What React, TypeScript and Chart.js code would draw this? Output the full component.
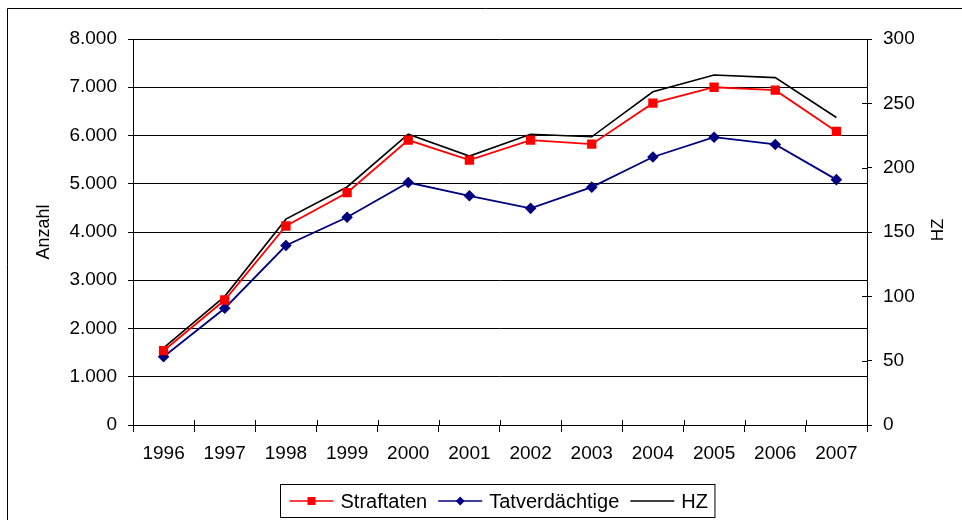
import React, { useEffect, useRef } from 'react';
import { Chart, registerables } from 'chart.js';

Chart.register(...registerables);

const years = ['1996', '1997', '1998', '1999', '2000', '2001', '2002', '2003', '2004', '2005', '2006', '2007'];
const straftaten = [1540, 2590, 4125, 4815, 5905, 5490, 5905, 5820, 6670, 7000, 6940, 6085];
const tatverdaechtige = [1415, 2420, 3720, 4305, 5025, 4750, 4490, 4930, 5555, 5965, 5815, 5085];
const hz = [60, 100, 160, 185, 226, 209, 226, 224, 259, 272, 270, 239];

const seriesNames = ['Straftaten', 'Tatverdächtige', 'HZ'];
const seriesColors = ['#ff0000', '#000080', '#000000'];
const leftTitle = 'Anzahl';
const rightTitle = 'HZ';
const leftMax = 8000;
const leftStep = 1000;
const rightMax = 300;
const rightStep = 50;

const FONT = '"Liberation Sans", Arial, sans-serif';

const fmt = (v: number | string) =>
  String(v).replace(/\B(?=(\d{3})+(?!\d))/g, '.');

const decorPlugin = {
  id: 'decor',
  beforeDraw(chart: any) {
    const ctx = chart.ctx;
    ctx.save();
    ctx.strokeStyle = '#000';
    ctx.lineWidth = 1;
    ctx.beginPath();
    ctx.moveTo(7.5, chart.height + 2);
    ctx.lineTo(7.5, 8.5);
    ctx.lineTo(chart.width + 2, 8.5);
    ctx.stroke();
    ctx.restore();
  },
  afterDraw(chart: any) {
    const ctx = chart.ctx;
    const area = chart.chartArea;
    const xs = chart.scales.x;
    const y1 = chart.scales.y1;
    ctx.save();
    ctx.strokeStyle = '#000';
    ctx.lineWidth = 1;
    ctx.beginPath();
    // inner ticks on right axis
    y1.ticks.forEach((t: any) => {
      const y = Math.round(y1.getPixelForValue(t.value)) + 0.5;
      ctx.moveTo(area.right - 5, y);
      ctx.lineTo(area.right, y);
    });
    // inner ticks on x axis at category boundaries
    const n = years.length;
    const w = (xs.right - xs.left) / n;
    for (let i = 0; i <= n; i++) {
      const x = Math.round(xs.left + i * w) + 0.5;
      ctx.moveTo(x, area.bottom - 5);
      ctx.lineTo(x, area.bottom);
    }
    ctx.stroke();

    // right axis title, rotated reading upward
    ctx.fillStyle = '#000';
    ctx.font = `17px ${FONT}`;
    ctx.textAlign = 'center';
    ctx.textBaseline = 'middle';
    ctx.translate(y1.right - 24, (area.top + area.bottom) / 2 - 2);
    ctx.rotate(-Math.PI / 2);
    ctx.fillText(rightTitle, 0, 0);
    ctx.setTransform(1, 0, 0, 1, 0, 0);

    // legend
    ctx.font = `20px ${FONT}`;
    const widths = seriesNames.map((s) => ctx.measureText(s).width);
    const padL = 9, lineLen = 44, gapT = 7, gapItem = 11, padR = 7;
    const total = padL + seriesNames.length * (lineLen + gapT) + widths.reduce((a, b) => a + b, 0) + (seriesNames.length - 1) * gapItem + padR;
    const cx = (area.left + area.right) / 2 - 2.5;
    const left = Math.round(cx - total / 2) + 0.5;
    const top = 484.5;
    const h = 33;
    ctx.strokeStyle = '#000';
    ctx.lineWidth = 1;
    ctx.strokeRect(left, top, total, h);
    const cy = top + h / 2;
    let x = left + padL;
    seriesNames.forEach((name, i) => {
      ctx.strokeStyle = seriesColors[i];
      ctx.fillStyle = seriesColors[i];
      ctx.lineWidth = 1.6;
      ctx.beginPath();
      ctx.moveTo(x, cy);
      ctx.lineTo(x + lineLen, cy);
      ctx.stroke();
      const mx = x + lineLen / 2;
      if (i === 0) {
        ctx.fillRect(mx - 4, cy - 4, 8, 8);
      } else if (i === 1) {
        ctx.beginPath();
        ctx.moveTo(mx, cy - 4.5);
        ctx.lineTo(mx + 4.5, cy);
        ctx.lineTo(mx, cy + 4.5);
        ctx.lineTo(mx - 4.5, cy);
        ctx.closePath();
        ctx.fill();
      }
      x += lineLen + gapT;
      ctx.fillStyle = '#000';
      ctx.textAlign = 'left';
      ctx.textBaseline = 'middle';
      ctx.fillText(name, x, cy + 1);
      x += widths[i] + gapItem;
    });
    ctx.restore();
  },
};

export default function App() {
  const ref = useRef<HTMLCanvasElement>(null);
  useEffect(() => {
    if (!ref.current) return;
    const tickFont = { family: FONT, size: 19 };
    const chart = new Chart(ref.current, {
      type: 'line',
      data: {
        labels: years,
        datasets: [
          {
            label: seriesNames[0],
            data: straftaten,
            yAxisID: 'y',
            borderColor: seriesColors[0],
            backgroundColor: seriesColors[0],
            borderWidth: 1.8,
            pointStyle: 'rect',
            pointRadius: 6.6,
            pointBorderWidth: 0,
            tension: 0,
          },
          {
            label: seriesNames[1],
            data: tatverdaechtige,
            yAxisID: 'y',
            borderColor: seriesColors[1],
            backgroundColor: seriesColors[1],
            borderWidth: 1.8,
            pointStyle: 'rectRot',
            pointRadius: 5.8,
            pointBorderWidth: 0,
            tension: 0,
          },
          {
            label: seriesNames[2],
            data: hz,
            yAxisID: 'y1',
            borderColor: seriesColors[2],
            backgroundColor: seriesColors[2],
            borderWidth: 1.6,
            pointRadius: 0,
            tension: 0,
          },
        ],
      },
      options: {
        responsive: false,
        animation: false,
        layout: { padding: { top: 39, left: 0, right: 0, bottom: 0 } },
        plugins: { legend: { display: false }, tooltip: { enabled: false } },
        scales: {
          x: {
            offset: true,
            grid: { offset: true, drawOnChartArea: false, drawTicks: true, tickLength: 7, color: '#000', lineWidth: 1 },
            border: { display: true, color: '#000', width: 1 },
            ticks: { font: tickFont, color: '#000', padding: 10, maxRotation: 0, autoSkip: false },
            afterFit: (s: any) => { s.height = 95; },
          },
          y: {
            position: 'left',
            min: 0,
            max: leftMax,
            ticks: { stepSize: leftStep, callback: (v: any) => fmt(v), font: tickFont, color: '#000', padding: 11 },
            grid: { color: '#000', lineWidth: 1, tickLength: 5 },
            border: { display: true, color: '#000', width: 1 },
            title: { display: true, text: leftTitle, color: '#000', font: { family: FONT, size: 18 }, padding: { top: 33, bottom: 0 } },
            afterFit: (s: any) => { s.width = 133; },
          },
          y1: {
            position: 'right',
            min: 0,
            max: rightMax,
            ticks: { stepSize: rightStep, font: tickFont, color: '#000', padding: 11 },
            grid: { drawOnChartArea: false, color: '#000', lineWidth: 1, tickLength: 5 },
            border: { display: true, color: '#000', width: 1 },
            afterFit: (s: any) => { s.width = 95; },
          },
        },
      },
      plugins: [decorPlugin],
    } as any);
    return () => chart.destroy();
  }, []);
  return (
    <div style={{ position: 'fixed', left: 0, top: 0, width: 962, height: 520, background: '#fff' }}>
      <canvas ref={ref} width={962} height={520} style={{ display: 'block' }} />
    </div>
  );
}
